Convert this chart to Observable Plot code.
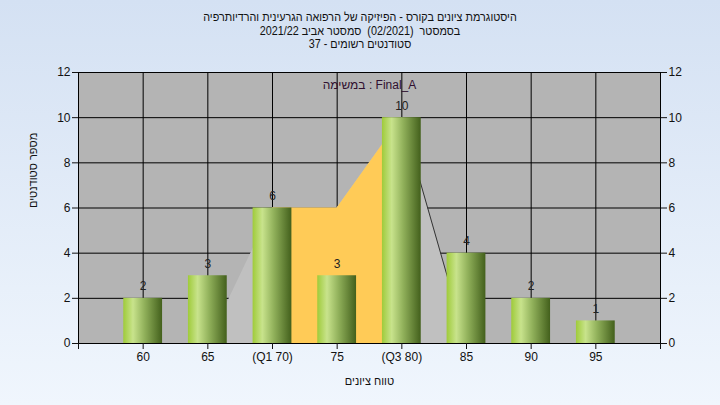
<!DOCTYPE html>
<html>
<head>
<meta charset="utf-8">
<script src="https://cdn.jsdelivr.net/npm/d3@7"></script>
<script src="https://cdn.jsdelivr.net/npm/@observablehq/plot@0.6"></script>
<style>
  html, body { margin: 0; padding: 0; }
  #wrap {
    position: relative; width: 720px; height: 405px; overflow: hidden;
    background: linear-gradient(#d4e1f3, #f0f6fd);
    font-family: "Liberation Sans", Arial, sans-serif;
  }
  #title {
    position: absolute; left: 0; top: 11px; width: 720px;
    text-align: center; font-size: 12px; line-height: 13.5px; color: #111;
    transform: scaleX(0.9); transform-origin: 360px 0;
  }
  #chart { position: absolute; left: 0; top: 0; }
</style>
</head>
<body>
<div id="wrap">
  <div id="chart"></div>
  <div id="title" dir="rtl">
    <div>היסטוגרמת ציונים בקורס - הפיזיקה של הרפואה הגרעינית והרדיותרפיה</div>
    <div>בסמסטר&nbsp;&nbsp;(02/2021)&nbsp;&nbsp;סמסטר אביב 2021/22</div>
    <div>סטודנטים רשומים - 37</div>
  </div>
</div>
<script>
// ---- data ----
const grades = [60, 65, 70, 75, 80, 85, 90, 95];
const tickLabels = ["60", "65", "(Q1 70)", "75", "(Q3 80)", "85", "90", "95"];
const counts = [2, 3, 6, 3, 10, 4, 2, 1];
const areaGrades = [65, 70, 75, 80, 85];
const areaValues = [0, 6, 6, 10, 0];
const q1 = 70, q3 = 80;
const yTicks = [0, 2, 4, 6, 8, 10, 12];
const axisTicks = [55, 60, 65, 70, 75, 80, 85, 90, 95, 100];
const noteText = "במשימה : Final_A";
const xLabel = "טווח ציונים";
const yLabel = "מספר סטודנטים";

const bars = grades.map((g, i) => ({grade: g, count: counts[i]}));
const area = areaGrades.map((g, i) => ({grade: g, value: areaValues[i]}));
const areaQ = area.filter(d => d.grade >= q1 && d.grade <= q3);
const areaLine = area.filter(d => d.grade >= q3);
const labelOf = new Map(grades.map((g, i) => [g, tickLabels[i]]));
const halfWidth = 1.5;

const plot = Plot.plot({
  width: 720,
  height: 405,
  marginLeft: 78,
  marginRight: 60,
  marginTop: 72,
  marginBottom: 62,
  style: {background: "transparent", fontFamily: "Liberation Sans, Arial, sans-serif", fontSize: "12px", color: "#111"},
  x: {domain: [55, 100]},
  y: {domain: [0, 12]},
  marks: [
    Plot.frame({fill: "#b4b4b4"}),
    Plot.ruleY(yTicks.filter(d => d > 0), {stroke: "#000", strokeWidth: 1}),
    Plot.ruleX(grades, {stroke: "#000", strokeWidth: 1}),
    Plot.areaY(area, {x: "grade", y: "value", fill: "#c0c0c0"}),
    Plot.areaY(areaQ, {x: "grade", y: "value", fill: "#ffcb57"}),
    Plot.line(areaLine, {x: "grade", y: "value", stroke: "#333", strokeWidth: 1}),
    Plot.rect(bars, {
      x1: d => d.grade - halfWidth, x2: d => d.grade + halfWidth,
      y1: 0, y2: "count", fill: "url(#barGrad)", ariaLabel: "bars"
    }),
    Plot.text(bars, {x: "grade", y: "count", text: d => String(d.count), dy: -12, fill: "#222", fontSize: 12}),
    Plot.text([noteText], {frameAnchor: "top", dy: 8, fill: "#301030", fontSize: 12}),
    Plot.frame({stroke: "#000", strokeWidth: 1}),
    Plot.axisY(yTicks, {anchor: "left", tickSize: 6, tickPadding: 2, label: null, fontSize: 12}),
    Plot.axisY(yTicks, {anchor: "right", tickSize: 6, tickPadding: 2, label: null, fontSize: 12}),
    Plot.axisX(axisTicks, {anchor: "bottom", tickSize: 6, tickPadding: 3, label: null, fontSize: 12,
      tickFormat: d => labelOf.get(d) ?? ""}),
    Plot.text([xLabel], {frameAnchor: "bottom", dy: 41, fill: "#111", fontSize: 11}),
    Plot.text([yLabel], {frameAnchor: "left", dx: -45, rotate: -90, fill: "#111", fontSize: 11})
  ]
});

const svg = d3.select(plot);
const defs = svg.insert("defs", ":first-child");
const grad = defs.append("linearGradient").attr("id", "barGrad")
  .attr("x1", "0%").attr("x2", "100%").attr("y1", "0%").attr("y2", "0%");
[["0%", "#9fcb3a"], ["25%", "#c8e38c"], ["55%", "#90b05a"], ["100%", "#43601c"]]
  .forEach(([o, c]) => grad.append("stop").attr("offset", o).attr("stop-color", c));
svg.selectAll("g[aria-label='bars']").style("filter", "drop-shadow(4px 3px 2.5px rgba(0,0,0,0.6))");

document.getElementById("chart").appendChild(plot);
</script>
</body>
</html>
